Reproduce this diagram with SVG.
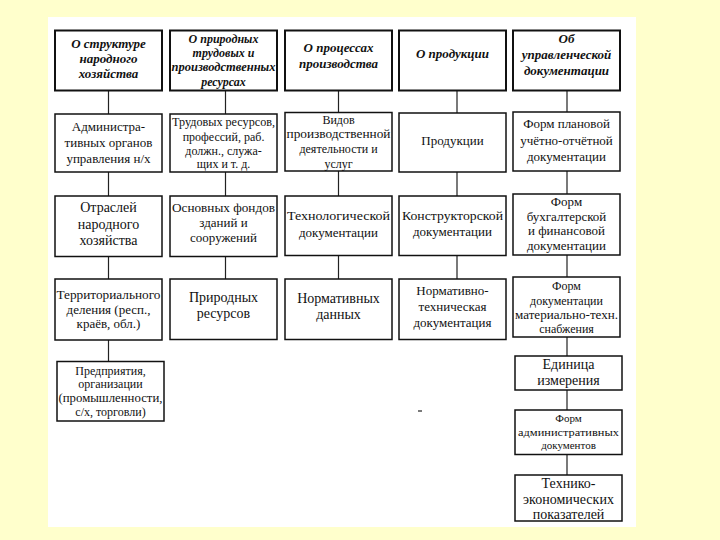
<svg xmlns="http://www.w3.org/2000/svg" width="720" height="540" viewBox="0 0 720 540">
<style>
.bx{fill:#fff;stroke:#111;stroke-width:1.5}
.hb{fill:#fff;stroke:#111;stroke-width:2}
.cn{stroke:#222;stroke-width:1.2;fill:none}
text{font-family:'Liberation Serif','Times New Roman','DejaVu Serif',Times,serif;fill:#111;text-anchor:middle;font-size:13px}
.h{font-weight:bold;font-style:italic}
.s{font-size:12px}
.xs{font-size:11px}
.l{font-size:14px}
</style>
<rect x="0" y="0" width="720" height="540" fill="#FFFFCC"/>
<rect x="48" y="17" width="588" height="510" fill="#fff"/>
<g id="connectors">
<path class="cn" d="M108.5 91V114M108.5 172V196M108.5 257V279M108.5 340V361"/>
<path class="cn" d="M225.5 91V114M225.5 172V196M225.5 257V279"/>
<path class="cn" d="M338.5 91V112M338.5 171V196M338.5 256V279"/>
<path class="cn" d="M457 91V113M457 172V196M457 256V279"/>
<path class="cn" d="M567 91V112M567 171V194M567 255V277M567 337V356M567 390V410M567 454V475"/>
<path class="cn" d="M418 411H422"/>
</g>
<g id="n1"><rect class="hb" x="55" y="30.5" width="107" height="60"/><text class="h" font-family="Liberation Serif, DejaVu Serif, serif"><tspan x="108.5" y="48">О структуре</tspan><tspan x="108.5" y="63">народного</tspan><tspan x="108.5" y="78">хозяйства</tspan></text></g>
<g id="n2"><rect class="hb" x="170" y="30.5" width="107" height="60"/><text class="h s"><tspan x="223.5" y="43">О природных</tspan><tspan x="223.5" y="57">трудовых и</tspan><tspan x="223.5" y="71" textLength="104" lengthAdjust="spacingAndGlyphs">производственных</tspan><tspan x="223.5" y="86">ресурсах</tspan></text></g>
<g id="n3"><rect class="hb" x="285" y="30.5" width="107" height="60"/><text class="h"><tspan x="338.5" y="52">О процессах</tspan><tspan x="338.5" y="68">производства</tspan></text></g>
<g id="n4"><rect class="hb" x="399" y="30.5" width="107" height="60"/><text class="h"><tspan x="452.5" y="58">О продукции</tspan></text></g>
<g id="n5"><rect class="hb" x="513" y="30.5" width="107" height="60"/><text class="h"><tspan x="566.5" y="43">Об</tspan><tspan x="566.5" y="59">управленческой</tspan><tspan x="566.5" y="75">документации</tspan></text></g>

<g id="n6"><rect class="bx" x="55" y="114" width="107" height="58"/><text><tspan x="108.5" y="131">Администра-</tspan><tspan x="108.5" y="147">тивных органов</tspan><tspan x="108.5" y="163">управления н/х</tspan></text></g>
<g id="n7"><rect class="bx" x="170" y="114" width="107" height="58"/><text class="s"><tspan x="223.5" y="126" textLength="103" lengthAdjust="spacingAndGlyphs">Трудовых ресурсов,</tspan><tspan x="223.5" y="141">профессий, раб.</tspan><tspan x="223.5" y="155">должн., служа-</tspan><tspan x="223.5" y="168">щих и т. д.</tspan></text></g>
<g id="n8"><rect class="bx" x="285" y="112.5" width="107" height="58.5"/><text class="s"><tspan x="338.5" y="124">Видов</tspan><tspan x="338.5" y="138" textLength="104" lengthAdjust="spacingAndGlyphs">производственной</tspan><tspan x="338.5" y="153">деятельности и</tspan><tspan x="338.5" y="168">услуг</tspan></text></g>
<g id="n9"><rect class="bx" x="399" y="113" width="107" height="59"/><text><tspan x="452.5" y="145">Продукции</tspan></text></g>
<g id="n10"><rect class="bx" x="513" y="112" width="107" height="59"/><text><tspan x="566.5" y="128">Форм плановой</tspan><tspan x="566.5" y="145">учётно-отчётной</tspan><tspan x="566.5" y="161">документации</tspan></text></g>

<g id="n11"><rect class="bx" x="55" y="196" width="107" height="60.5"/><text class="l"><tspan x="108.5" y="212">Отраслей</tspan><tspan x="108.5" y="229">народного</tspan><tspan x="108.5" y="245">хозяйства</tspan></text></g>
<g id="n12"><rect class="bx" x="170" y="196" width="107" height="60.5"/><text><tspan x="223.5" y="212" textLength="103" lengthAdjust="spacingAndGlyphs">Основных фондов</tspan><tspan x="223.5" y="227">зданий и</tspan><tspan x="223.5" y="242">сооружений</tspan></text></g>
<g id="n13"><rect class="bx" x="285" y="196" width="107" height="59.5"/><text><tspan x="338.5" y="220" textLength="103" lengthAdjust="spacingAndGlyphs">Технологической</tspan><tspan x="338.5" y="237">документации</tspan></text></g>
<g id="n14"><rect class="bx" x="399" y="196" width="107" height="59.5"/><text><tspan x="452.5" y="220" textLength="101" lengthAdjust="spacingAndGlyphs">Конструкторской</tspan><tspan x="452.5" y="236">документации</tspan></text></g>
<g id="n15"><rect class="bx" x="513" y="194" width="107" height="61"/><text><tspan x="566.5" y="206">Форм</tspan><tspan x="566.5" y="221">бухгалтерской</tspan><tspan x="566.5" y="235">и финансовой</tspan><tspan x="566.5" y="250">документации</tspan></text></g>

<g id="n16"><rect class="bx" x="55" y="279" width="107" height="61"/><text><tspan x="108.5" y="299" textLength="104" lengthAdjust="spacingAndGlyphs">Территориального</tspan><tspan x="108.5" y="314">деления (респ.,</tspan><tspan x="108.5" y="328">краёв, обл.)</tspan></text></g>
<g id="n17"><rect class="bx" x="170" y="279" width="107" height="60.5"/><text class="l"><tspan x="223.5" y="302">Природных</tspan><tspan x="223.5" y="318">ресурсов</tspan></text></g>
<g id="n18"><rect class="bx" x="285" y="279" width="107" height="60.5"/><text class="l"><tspan x="338.5" y="303">Нормативных</tspan><tspan x="338.5" y="319">данных</tspan></text></g>
<g id="n19"><rect class="bx" x="399" y="279" width="107" height="60.5"/><text><tspan x="452.5" y="295">Нормативно-</tspan><tspan x="452.5" y="311">техническая</tspan><tspan x="452.5" y="327">документация</tspan></text></g>
<g id="n20"><rect class="bx" x="513" y="277" width="107" height="60"/><text class="s"><tspan x="566.5" y="290">Форм</tspan><tspan x="566.5" y="305">документации</tspan><tspan x="566.5" y="319" textLength="103" lengthAdjust="spacingAndGlyphs">материально-техн.</tspan><tspan x="566.5" y="333">снабжения</tspan></text></g>

<g id="n21"><rect class="bx" x="57" y="361.5" width="107" height="59.5"/><text class="s"><tspan x="110.5" y="375">Предприятия,</tspan><tspan x="110.5" y="388">организации</tspan><tspan x="110.5" y="402" textLength="104" lengthAdjust="spacingAndGlyphs">(промышленности,</tspan><tspan x="110.5" y="416">с/х, торговли)</tspan></text></g>
<g id="n22"><rect class="bx" x="515" y="356" width="107" height="34"/><text class="l"><tspan x="568.5" y="369">Единица</tspan><tspan x="568.5" y="385">измерения</tspan></text></g>
<g id="n23"><rect class="bx" x="515" y="410" width="107" height="44.5"/><text class="xs"><tspan x="568.5" y="422">Форм</tspan><tspan x="568.5" y="436" textLength="101" lengthAdjust="spacingAndGlyphs">административных</tspan><tspan x="568.5" y="449">документов</tspan></text></g>
<g id="n24"><rect class="bx" x="515" y="475" width="107" height="46"/><text class="l"><tspan x="568.5" y="488">Технико-</tspan><tspan x="568.5" y="504">экономических</tspan><tspan x="568.5" y="519">показателей</tspan></text></g>
</svg>
